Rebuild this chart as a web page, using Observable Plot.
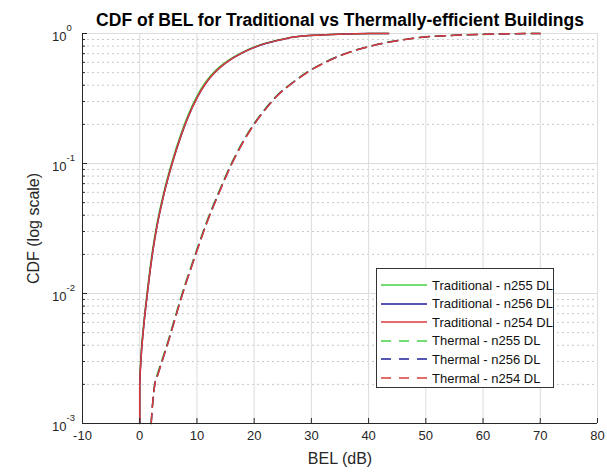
<!DOCTYPE html>
<html>
<head>
<meta charset="utf-8">
<script src="https://cdn.jsdelivr.net/npm/d3@7"></script>
<script src="https://cdn.jsdelivr.net/npm/@observablehq/plot@0.6"></script>
<style>
  body { margin: 0; background: #fff; }
  #wrap { position: relative; width: 607px; height: 472px; font-family: "Liberation Sans", Arial, sans-serif; }
  #legend { position: absolute; left: 376px; top: 268px; width: 178px; height: 120px; border: 1px solid #333; background: #fff; box-sizing: border-box; }
  .row { position: absolute; left: 0; height: 18px; display: flex; align-items: center; font-size: 13px; color: #111; white-space: nowrap; }
  .row svg { margin-left: 4px; margin-right: 5px; }
</style>
</head>
<body>
<div id="wrap"></div>
<script>
// ---- data ----
const title = "CDF of BEL for Traditional vs Thermally-efficient Buildings";
const xLabel = "BEL (dB)";
const yLabel = "CDF (log scale)";
const xTicks = [-10, 0, 10, 20, 30, 40, 50, 60, 70, 80];
const yTicks = [0.001, 0.01, 0.1, 1];
const yTickExponents = ["-3", "-2", "-1", "0"];

// Traditional buildings: BEL (dB) grid and CDF for each band
const belTrad = [0, 0, 0.2, 0.7, 1.35, 2.2, 2.94, 4.2, 5.8, 7.2, 8.5, 10.1, 11.3, 12.5, 14, 15.4, 18, 21.2, 24, 27, 31.7, 36, 40, 43.5];
const cdfTrad255 = [0.001, 0.002, 0.0032, 0.0059, 0.0107, 0.021, 0.0331, 0.06, 0.109, 0.169, 0.239, 0.336, 0.411, 0.48, 0.556, 0.619, 0.72, 0.822, 0.886, 0.942, 0.976, 0.991, 0.998, 1.0];
const cdfTrad256 = [0.001, 0.0019, 0.0030, 0.0056, 0.0101, 0.0199, 0.0315, 0.0573, 0.1045, 0.162, 0.23, 0.325, 0.399, 0.468, 0.545, 0.609, 0.712, 0.816, 0.882, 0.94, 0.975, 0.991, 0.998, 1.0];
const cdfTrad254 = [0.001, 0.0019, 0.0030, 0.0056, 0.0102, 0.02, 0.0316, 0.0575, 0.105, 0.163, 0.231, 0.326, 0.40, 0.469, 0.546, 0.61, 0.713, 0.817, 0.883, 0.94, 0.975, 0.991, 0.998, 1.0];

// Thermally-efficient buildings
const belTherm = [2.0, 2.3, 2.6, 3.2, 4.0, 5.0, 6.0, 7.0, 8.0, 9.0, 10.0, 11.6, 13.8, 16.1, 19.5, 22, 24.1, 26.7, 29.4, 32.3, 35.2, 38, 41, 45, 49.8, 55, 59.8, 65, 70];
const cdfTherm255 = [0.001, 0.0015, 0.002, 0.0025, 0.0032, 0.0044, 0.0062, 0.0088, 0.0121, 0.0163, 0.022, 0.0348, 0.0603, 0.102, 0.189, 0.266, 0.338, 0.42, 0.51, 0.599, 0.683, 0.752, 0.814, 0.882, 0.941, 0.968, 0.984, 0.995, 1.0];
const cdfTherm256 = [0.001, 0.0015, 0.00195, 0.0024, 0.0031, 0.00427, 0.00603, 0.00851, 0.01175, 0.01585, 0.0214, 0.0339, 0.0589, 0.1, 0.186, 0.263, 0.335, 0.417, 0.507, 0.596, 0.681, 0.75, 0.813, 0.881, 0.94, 0.968, 0.984, 0.995, 1.0];
const cdfTherm254 = [0.001, 0.0015, 0.00195, 0.0024, 0.0031, 0.00425, 0.006, 0.00846, 0.0117, 0.0158, 0.0213, 0.0337, 0.0586, 0.0996, 0.185, 0.262, 0.334, 0.416, 0.506, 0.595, 0.68, 0.749, 0.812, 0.88, 0.94, 0.968, 0.984, 0.995, 1.0];

const seriesNames = ["Traditional - n255 DL", "Traditional - n256 DL", "Traditional - n254 DL",
                     "Thermal - n255 DL", "Thermal - n256 DL", "Thermal - n254 DL"];
const seriesColors = ["#44d544", "#1c1f96", "#dd3b3b", "#44d544", "#1c1f96", "#dd3b3b"];
const seriesDashed = [false, false, false, true, true, true];
const seriesBel = [belTrad, belTrad, belTrad, belTherm, belTherm, belTherm];
const seriesCdf = [cdfTrad255, cdfTrad256, cdfTrad254, cdfTherm255, cdfTherm256, cdfTherm254];

// ---- build table ----
const rows = [];
seriesNames.forEach((name, i) => {
  seriesBel[i].forEach((b, j) => rows.push({series: name, bel: b, cdf: seriesCdf[i][j]}));
});
const minorY = [];
for (const d of [0.001, 0.01, 0.1]) for (let k = 2; k <= 9; k++) minorY.push(d * k);

const W = 607, H = 472, mL = 82, mR = 10, mT = 33, mB = 49;
const fw = W - mL - mR, fh = H - mT - mB;
const font = "Liberation Sans, Arial, sans-serif";
const tickColor = "#262626";

const lineMarks = seriesNames.map((name, i) =>
  Plot.line(rows.filter(r => r.series === name), {
    x: "bel", y: "cdf", stroke: seriesColors[i], strokeWidth: 1.5,
    strokeDasharray: seriesDashed[i] ? "10,6" : null, curve: "monotone-x"
  })
);

const chart = Plot.plot({
  width: W, height: H,
  marginLeft: mL, marginRight: mR, marginTop: mT, marginBottom: mB,
  style: {fontFamily: font, background: "#fff", overflow: "visible"},
  x: {domain: [-10, 80]},
  y: {type: "log", domain: [0.001, 1]},
  marks: [
    Plot.gridY(minorY, {stroke: "#c8c8c8", strokeOpacity: 1, strokeDasharray: "2,3"}),
    Plot.gridX(xTicks, {stroke: "#dcdcdc", strokeOpacity: 1}),
    Plot.gridY(yTicks, {stroke: "#dcdcdc", strokeOpacity: 1}),
    ...lineMarks,
    Plot.ruleX([-10], {stroke: tickColor}),
    Plot.ruleY([0.001], {stroke: tickColor}),
    Plot.ruleX(xTicks, {stroke: tickColor, insetTop: fh - 5}),
    Plot.ruleY(yTicks, {stroke: tickColor, insetRight: fw - 5}),
    Plot.ruleY(minorY, {stroke: tickColor, insetRight: fw - 3}),
    Plot.axisX(xTicks, {tickSize: 0, tickPadding: 7, fontSize: 13, fill: tickColor, label: null, tickFormat: d => d < 0 ? "-" + Math.abs(d) : String(d)}),
    Plot.axisY({ticks: [], label: null, tickSize: 0}),
    Plot.text(yTicks, {y: d => d, frameAnchor: "left", text: () => "10", textAnchor: "end", dx: -16, dy: 3, fontSize: 13, fill: tickColor}),
    Plot.text(yTicks, {y: d => d, frameAnchor: "left", text: (d, i) => yTickExponents[i], textAnchor: "start", dx: -16, dy: -6, fontSize: 9.5, fill: tickColor}),
    Plot.text([title], {frameAnchor: "top", textAnchor: "middle", lineAnchor: "bottom", dy: -8, fontSize: 17.5, fontWeight: "bold", fill: "#000"}),
    Plot.text([xLabel], {frameAnchor: "bottom", textAnchor: "middle", lineAnchor: "top", dy: 29, fontSize: 16, fill: tickColor}),
    Plot.text([yLabel], {frameAnchor: "left", textAnchor: "middle", rotate: -90, dx: -49, fontSize: 16, fill: tickColor})
  ]
});
const wrap = document.getElementById("wrap");
wrap.appendChild(chart);

// legend
const legend = document.createElement("div");
legend.id = "legend";
seriesNames.forEach((name, i) => {
  const row = document.createElement("div");
  row.className = "row";
  row.style.top = (7 + i * 18.6) + "px";
  row.innerHTML = `<svg width="46" height="6"><line x1="0" y1="3" x2="46" y2="3" stroke="${seriesColors[i]}" stroke-width="1.5" ${seriesDashed[i] ? 'stroke-dasharray="10,8"' : ""}/></svg><span>${name}</span>`;
  legend.appendChild(row);
});
wrap.appendChild(legend);
</script>
</body>
</html>
